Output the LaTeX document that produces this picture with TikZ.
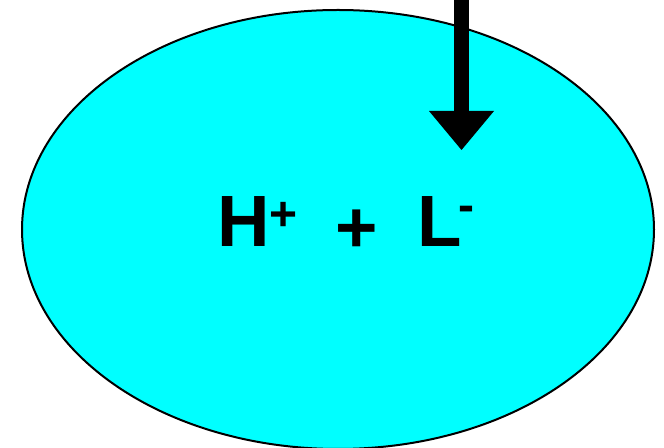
\documentclass[tikz,border=0pt]{standalone}
\usepackage{fontspec}
\setmainfont{Liberation Sans}
\usetikzlibrary{arrows.meta}
\definecolor{cellcyan}{RGB}{0,255,255}
\begin{document}
\begin{tikzpicture}[x=0.75pt, y=-0.75pt,
    ion/.style={inner sep=0pt, font=\fontsize{54.5}{60}\selectfont\bfseries},
    charge/.style={inner sep=0pt, font=\fontsize{36}{40}\selectfont\bfseries}]
  \useasboundingbox (0,0) rectangle (664,448);

  % cell body
  \draw[fill=cellcyan, line width=1.5pt] (338,229.5) ellipse [x radius=316, y radius=219.5];

  % ions inside
  \node[ion] (h) at (244,222) {H};
  \node[charge] (hcharge) at (283.3,216) {+};
  \node[ion] (plus) at (357,231) {+};
  \node[ion] (l) at (439.5,222) {L};
  \node[charge] (lcharge) at (466.5,214) {-};

  % incoming arrow
  \coordinate (src) at (461.5,0);
  \coordinate (tip) at (461.5,150);
  \draw[line width=11.25pt, -{Triangle[length=29.25pt, width=48.75pt, line width=0pt]}] (src) -- (tip);
\end{tikzpicture}
\end{document}
